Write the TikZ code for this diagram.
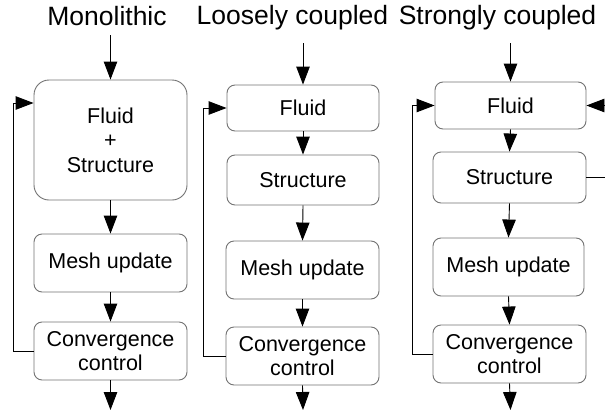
\documentclass[tikz,border=0pt]{standalone}
\usepackage{fontspec}
\setmainfont{Liberation Sans}
\usetikzlibrary{arrows.meta}
\begin{document}
\begin{tikzpicture}[x=1pt,y=-1pt,
  box/.style={draw=black!55, line width=0.9pt, fill=white, rounded corners=8pt, inner sep=0pt,
    align=center, font=\fontsize{21.5}{24.5}\selectfont},
  ttl/.style={anchor=base, inner sep=0pt, font=\fontsize{26.5}{30}\selectfont},
  arr/.style={line width=0.9pt, -{Triangle[length=18pt,width=13.5pt]}},
  fb/.style={line width=0.9pt, -{Triangle[length=18pt,width=13.5pt]}}]
\useasboundingbox (0,0) rectangle (605,410);
\clip (0,0) rectangle (605,410);
% titles
\node[ttl] (t1) at (107,25) {Monolithic};
\node[ttl] (t2) at (292.5,24) {Loosely coupled};
\node[ttl] (t3) at (497.5,24) {Strongly coupled};
% column 1
\node[box, rounded corners=15pt, minimum width=153pt, minimum height=120pt] (fs1) at (110.5,140) {Fluid\\+\\Structure};
\node[box, minimum width=153pt, minimum height=58pt] (m1) at (110.5,263) {Mesh update};
\node[box, minimum width=153pt, minimum height=58pt] (c1) at (110.5,351) {Convergence\\control};
\coordinate (in1) at (110.5,35);
\coordinate (out1) at (110.5,410);
\draw[arr] (in1) -- (fs1.north);
\draw[arr] (fs1.south) -- (m1.north);
\draw[arr] (m1.south) -- (c1.north);
\draw[arr] (c1.south) -- (out1);
\draw[fb] (c1.west) -- (13,351) -- (13,103) -- (fs1.west |- 0,103);
% column 2
\node[box, minimum width=152pt, minimum height=46pt] (f2) at (303,108) {Fluid};
\node[box, minimum width=152pt, minimum height=50pt] (s2) at (303,180) {Structure};
\node[box, minimum width=153pt, minimum height=58pt] (m2) at (302.5,270) {Mesh update};
\node[box, minimum width=153pt, minimum height=58pt] (c2) at (302.5,356) {Convergence\\control};
\coordinate (in2) at (303,43);
\coordinate (out2) at (303,410);
\draw[arr] (in2) -- (f2.north);
\draw[arr] (f2.south) -- (s2.north);
\draw[arr] (s2.south) -- (m2.north);
\draw[arr] (m2.south) -- (c2.north);
\draw[arr] (c2.south) -- (out2);
\draw[fb] (c2.west) -- (203,356) -- (203,108) -- (f2.west);
% column 3
\node[box, minimum width=151pt, minimum height=47pt] (f3) at (510.5,105.5) {Fluid};
\node[box, minimum width=153pt, minimum height=51pt] (s3) at (509.5,177.5) {Structure};
\node[box, minimum width=151pt, minimum height=58pt] (m3) at (508.5,267) {Mesh update};
\node[box, minimum width=153pt, minimum height=58pt] (c3) at (509.5,354) {Convergence\\control};
\coordinate (in3) at (510.5,43);
\coordinate (out3) at (510.5,410);
\draw[arr] (in3) -- (f3.north);
\draw[arr] (f3.south) -- (s3.north);
\draw[arr] (s3.south) -- (m3.north);
\draw[arr] (m3.south) -- (c3.north);
\draw[arr] (c3.south) -- (out3);
\draw[fb] (c3.west) -- (412,354) -- (412,105.5) -- (f3.west);
\coordinate (r1) at (625,177.5);
\coordinate (r2) at (625,105.5);
\draw[fb] (s3.east) -- (r1) -- (r2) -- (f3.east);
\end{tikzpicture}
\end{document}
